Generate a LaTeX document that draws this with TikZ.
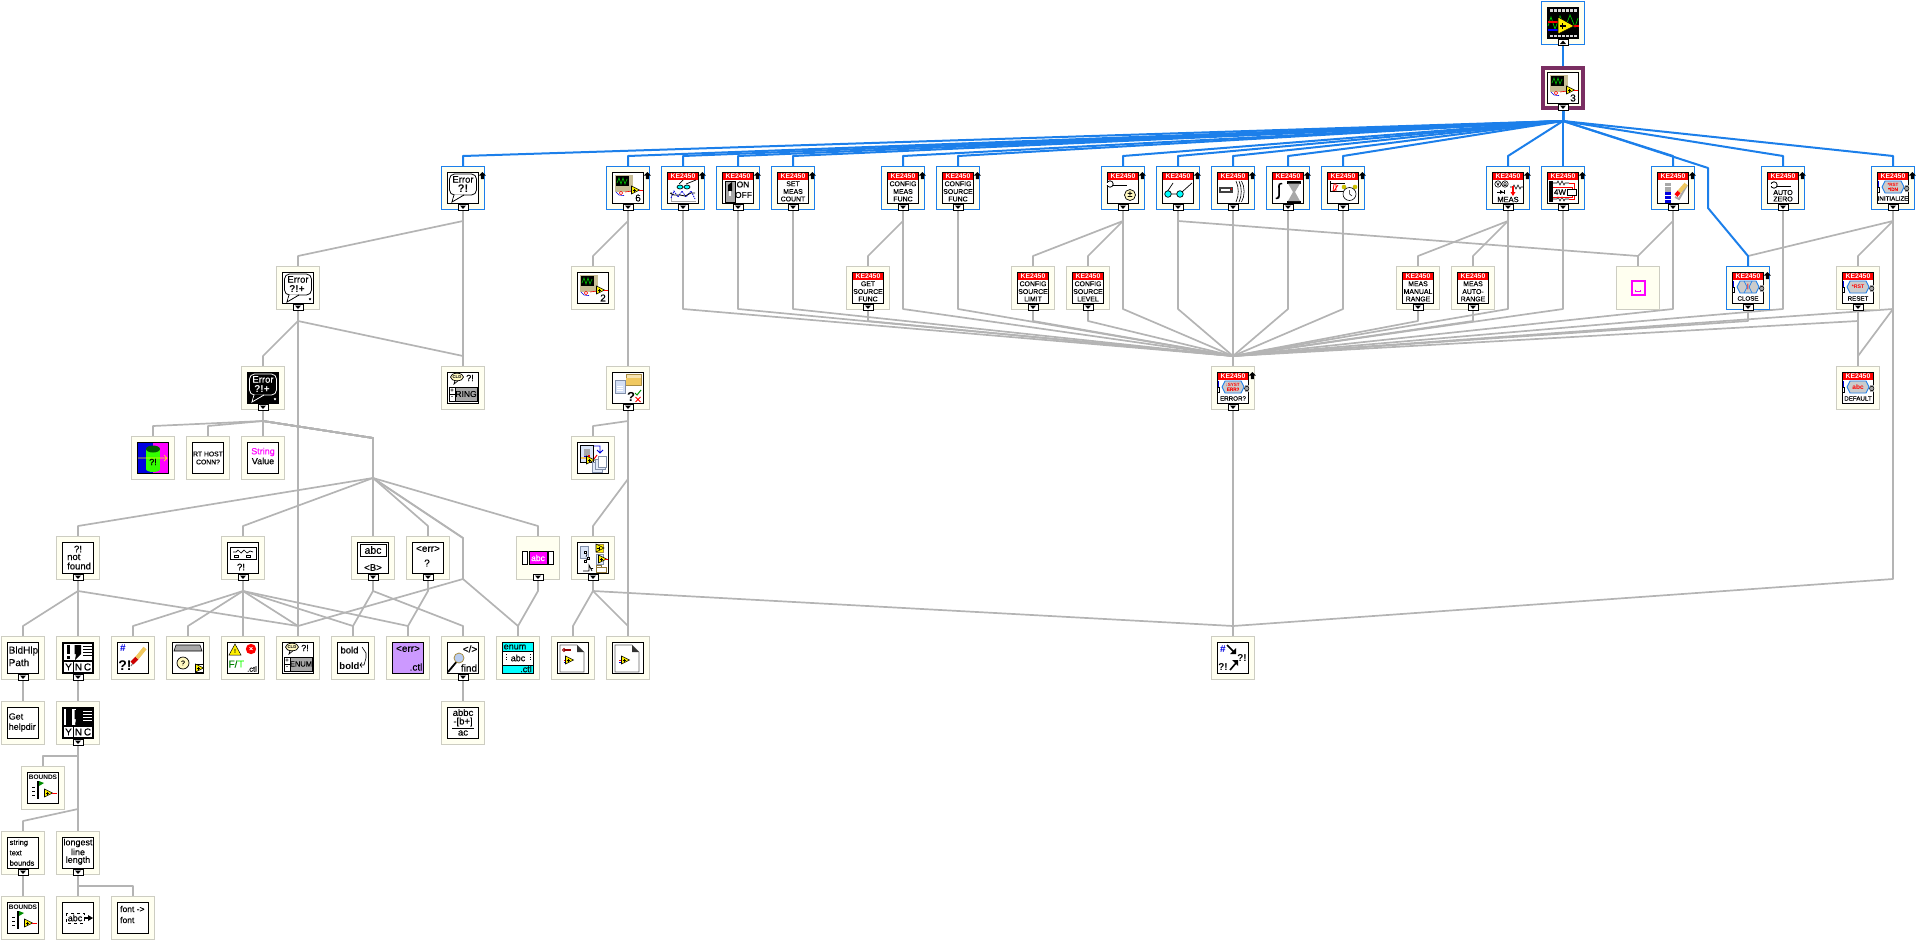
\documentclass[tikz,border=0pt]{standalone}
\usepackage{fontspec}
\setmainfont[FakeBold=0.22]{Liberation Sans}[BoldFont={Liberation Sans Bold},BoldFeatures={FakeBold=0}]
\usetikzlibrary{backgrounds,calc}
\definecolor{ivo}{HTML}{FFFFF0}
\definecolor{gb}{HTML}{CDCDC2}
\definecolor{gln}{HTML}{B4B4B4}
\definecolor{bl}{HTML}{1C7FEA}
\definecolor{pur}{HTML}{7A2E62}
\definecolor{tan1}{HTML}{C8BE96}
\definecolor{yel}{HTML}{FFF000}
\definecolor{mag}{HTML}{FF00FF}
\definecolor{cyn}{HTML}{00FFFF}
\definecolor{lav}{HTML}{CC99FF}
\definecolor{cream}{HTML}{FFF8C0}
\definecolor{gry}{HTML}{A8A8A8}
\definecolor{dbl}{HTML}{0000E0}
\definecolor{lbl}{HTML}{B8CCF0}
\definecolor{fold}{HTML}{F0C860}
\tikzset{
 vi/.style={draw=gb,line width=1pt,fill=ivo,minimum size=43pt,inner sep=0pt,outer sep=0pt},
 vib/.style={vi,draw=bl},
 vip/.style={vi,draw=pur,line width=4pt,minimum size=40pt},
 gl/.style={draw=gln,line width=1.7pt,line join=round},
 bll/.style={draw=bl,line width=2pt,line join=round},
 ink/.style={line width=1pt}
}
\newcounter{tc}
\newcommand\Tx[5][black]{\stepcounter{tc}\node[text=#1,align=center,inner sep=0pt,font=\fontsize{#4}{#4}\selectfont] (t\arabic{tc}) at (#2,#3) {#5};}
\newcommand\Tl[5][black]{\stepcounter{tc}\node[text=#1,anchor=west,inner sep=0pt,font=\fontsize{#4}{#4}\selectfont] (t\arabic{tc}) at (#2,#3) {#5};}
% node with black-framed icon
\newcommand\VI[5]{\node[#4] (#1) at (#2,#3) {};\begin{scope}[shift={(#1.center)}]\draw[line width=1pt,fill=white] (-15.5,-15.5) rectangle (15.5,15.5);#5\end{scope}}
% node with no frame
\newcommand\VN[5]{\node[#4] (#1) at (#2,#3) {};\begin{scope}[shift={(#1.center)}]#5\end{scope}}
\newcommand\Btn[1]{\begin{scope}[shift={(#1.center)}]\draw[line width=1pt,fill=white] (-5,16.5) rectangle (5,22);\fill (-3,17.5)--(3,17.5)--(0,21)--cycle;\end{scope}}
\newcommand\BtnU[1]{\begin{scope}[shift={(#1.center)}]\draw[line width=1pt,fill=white] (-5,16.5) rectangle (5,22);\fill (-3,21)--(3,21)--(0,17.5)--cycle;\end{scope}}
\newcommand\Up[1]{\begin{scope}[shift={(#1.center)}]\fill (19.3,-16)--(22.8,-12.5)--(20.8,-12.5)--(20.8,-9)--(17.8,-9)--(17.8,-12.5)--(15.8,-12.5)--cycle;\end{scope}}
% icon parts
\newcommand\KE{\fill[red] (-15,-15) rectangle (15,-8);\Tx[white]{0}{-11.5}{6.8}{\bfseries KE2450}}
\newcommand\KTh[3]{\KE\Tx{0}{-4.2}{6.9}{#1}\Tx{0}{3.6}{6.9}{#2}\Tx{0}{11}{6.9}{#3}}
\newcommand\Tri[2]{\begin{scope}[shift={(#1,#2)}]\draw[line width=.6pt,fill=yel] (-3.5,-4)--(-3.5,4)--(4.5,0)--cycle;\draw[line width=.6pt] (-2.2,0)--(.8,0) (-.7,-1.5)--(-.7,1.5);\end{scope}}
\newcommand\Scp[1]{\fill[tan1] (-13,-13) rectangle (5,4);\fill (-12,-12) rectangle (1,-2);\draw[green!70!black,line width=.7pt] (-11,-5)--(-9,-10)--(-7,-4)--(-5,-10)--(-3,-4)--(-1,-9);\draw[dbl,line width=.6pt] (-12,4)--(-9,7)--(-4,7.5);\draw[red,line width=.6pt] (-7,5) circle (1.8) (-3,4)--(4,3);\Tri{7}{2}\draw[red,line width=.7pt] (11,2)--(15,2);\Tx{10}{10}{10}{#1}}
\newcommand\Bub[4]{\draw[line width=.8pt,#4] (-9,#1) -- (-11,14) -- (1,#1);\draw[line width=.8pt,rounded corners=5pt,#4] (-13.5,-14) rectangle (13.5,#1);\fill[#2] (-8,6.5)--(-10,12)--(0,6.5)--cycle;\Tx[#3]{0}{-8.5}{9.5}{Error}}
\newcommand\RingI[2]{\draw[ink,fill=cream,line width=.7pt] (-6,-11) ellipse (6.5 and 3.8);\draw[line width=.7pt] (-8,-7.5)--(-9,-4)--(-5,-7.2);\Tx{-6}{-11}{4.2}{\bfseries CLD}\Tx{7}{-10}{9}{?!}\draw[line width=.8pt,fill=gry] (-14,-1) rectangle (14,13);\draw[line width=.8pt,fill=white] (-14,-1) rectangle (-8,13);\draw[line width=.7pt] (-14,6)--(-8,6);\Tx{-11}{2.5}{6}{\bfseries +}\Tx{-11}{9.5}{6}{\bfseries -}\Tx{3}{6}{#2}{#1}}
\newcommand\KBub[3]{\KE\fill[dbl] (-15.5,-7) rectangle (-14,-1);\draw[line width=.7pt,fill=white] (-15.5,-1) rectangle (-13.5,4);\draw[bl,line width=.9pt,fill=gry!60] (-11,-1)--(-8,-7)--(8,-7)--(11,-1)--(8,5)--(-8,5)--cycle;\fill[gry] (12,-3) rectangle (15.5,4);\draw[line width=.5pt] (13.7,.5) circle (2.2);\Tx[red]{0}{-1}{#3}{\bfseries #1}\Tx{0}{10.5}{6.2}{#2}}
\newcommand\Wrench[2]{\begin{scope}[shift={(#1,#2)}]\draw[line width=3pt] (-6,0)--(12,0);\draw[white,line width=1.6pt] (-6,0)--(12,0);\draw[line width=.8pt,fill=white] (-5,0) circle (3.2);\fill[white] (-9,-1)--(-5,-.8)--(-5,.8)--(-9,1)--cycle;\end{scope}}
\newcommand\Glass[2]{\draw[line width=.7pt] (-11,#1)--(-5,#2) (4,#1)--(14,#2) (-7,6)--(-1,6);\draw[line width=.7pt,fill=cyn] (-10,6) circle (3.3) (2,6) circle (3.3);}
\newcommand\Mini[2]{\begin{scope}[shift={(#1,#2)}]\draw[line width=.5pt,fill=white] (-4,-4) rectangle (4,4);\Tri{0}{0}\end{scope}}
\newcommand\YNC[2]{\fill (-15.5,-15.5) rectangle (15.5,15.5);\fill[#2] (-14,-14) rectangle (#1,2);\fill[white] (-6,-14) rectangle (14,2);\fill (-3.5,-13)--(3,-13)--(3,-4)--(-3,2)--(-2,-4)--(-3.5,-4)--cycle;\fill (-11,-13) rectangle (-8,-4);\fill (-11,-2) rectangle (-8,1);\draw[line width=.6pt] (5,-12)--(14,-12) (5,-9)--(14,-9) (5,-6)--(14,-6) (5,-3)--(14,-3);\foreach \xa/\lt in {-14/Y,-4/N,5/C}{\fill[white] (\xa,4) rectangle (\xa+9,14);\Tx{\xa+4.5}{9}{10}{\lt}}}
\newcommand\Doc[1]{\draw[line width=.7pt,draw=gry!60!black] (-13,-13)--(4,-13)--(11,-6)--(11,14)--(-13,14)--cycle;\fill[gray!40!black] (4,-13)--(11,-6)--(4,-6)--cycle;\draw[red,line width=.7pt] (-9,2)--(-5,2);\draw[dbl,line width=.7pt] (-9,4)--(-5,4);#1}
\newcommand\Bound{\Tx{0}{-10.5}{6.5}{\bfseries BOUNDS}\fill (-6.5,-7) rectangle (-4,11);\fill[green!55!black] (-4,-7)--(1,-5)--(-4,-2)--cycle;\draw[dashed,line width=.5pt] (-11,-1)--(-8,-1) (-11,3)--(-8,3) (-11,7)--(-8,7);\Tri{5}{5}\draw[red,line width=.6pt] (9,5)--(14,5);}
\newcommand\Eg[2]{\draw[gl] (#1.center) -- ($(#1.center)+(0,33)$) -- ($(#2.center)+(0,-32)$) -- (#2.center);}
\newcommand\El[2]{\draw[gl] (#1.center) -- ($(#1.center)+(0,121)$) -- ($(#2.center)+(0,-32)$) -- (#2.center);}
\newcommand\Ev[3]{\draw[gl] (#1.center) -- ($(#1.center)+(0,33)$) -- #2 -- ($(#3.center)+(0,-32)$) -- (#3.center);}
\newcommand\Eb[1]{\draw[bll] (n2.center) -- ($(n2.center)+(0,33)$) -- ($(#1.center)+(0,-32)$) -- (#1.center);}
\begin{document}
\begin{tikzpicture}[x=1pt,y=-1pt]
\useasboundingbox (0,0) rectangle (1923,945);
% ---------- row 1, 2
\VI{n1}{1563}{23}{vib}{\fill (-15.5,-15.5) rectangle (15.5,15.5);\foreach \xa in {-13,-9,-5,-1,3,7,11}{\fill[gray!30] (\xa,-14) rectangle (\xa+2.5,-11.5);\fill[gray!30] (\xa,11.5) rectangle (\xa+2.5,14);}\draw[green!80!black,line width=.7pt] (-15,3)--(-12,-6)--(-8,6)--(-3,-7)--(2,5)--(7,-8)--(12,4)--(15,-5);\draw[red,line width=1.5pt] (-15,-1)--(-5,-1);\draw[blue,line width=1.5pt] (-15,7)--(-5,7);\draw[red,line width=1.5pt] (10,3)--(16,3);\draw[line width=.6pt,fill=yel] (-5,-6)--(-5,11)--(11,3)--cycle;\draw[line width=1.2pt] (-3.5,3)--(3,3) (-.3,0)--(-.3,6);}
\BtnU{n1}
\VI{n2}{1563}{88}{vip}{\Scp{3}}
\Btn{n2}
% ---------- row 3
\VI{n3x463}{463}{188}{vib}{\Bub{7}{white}{black}{}\Tx{0}{1}{11}{\bfseries ?!}}
\VI{n3x628}{628}{188}{vib}{\Scp{6}}
\VI{n3x683}{683}{188}{vib}{\KE\draw[line width=.7pt] (-4,-4)--(0,-8) (3,-4)--(13,-8);\draw[line width=.7pt,fill=cyn] (-3,-1) ellipse (3 and 2) (4,-1) ellipse (3 and 2);\draw[gry,line width=.5pt] (-12,4)--(-12,13)--(13,13);\draw[dbl,line width=.8pt,dash pattern=on 1.5pt off 1pt] (-12,10)--(-9,3)--(-5,9)--(-1,3)--(3,9)--(8,3)--(12,11);\draw[line width=.8pt] (-13,5)--(-9,7)--(-3,7)--(2,8)--(8,5)--(12,5);}
\VI{n3x738}{738}{188}{vib}{\KE\draw[line width=.7pt,fill=gry] (-13,-7) rectangle (-3,14);\fill (-10,-3)--(-6,-6)--(-6,3)--(-10,3)--cycle;\fill[white] (-9,3) rectangle (-7,8);\Tx{5}{-3.5}{8.5}{ON}\Tx{5.5}{7}{8.5}{OFF}}
\VI{n3x793}{793}{188}{vib}{\KTh{SET}{MEAS}{COUNT}}
\VI{n3x903}{903}{188}{vib}{\KTh{CONFIG}{MEAS}{FUNC}}
\VI{n3x958}{958}{188}{vib}{\KTh{CONFIG}{SOURCE}{FUNC}}
\VI{n3x1123}{1123}{188}{vib}{\KE\Wrench{-8}{-4}\draw[line width=.7pt,fill=cream] (7,7) circle (5.5);\Tx{7}{7}{9}{\bfseries ±}}
\VI{n3x1178}{1178}{188}{vib}{\KE\Glass{4}{-5}}
\VI{n3x1233}{1233}{188}{vib}{\KE\fill[gray!50!black] (-14,-1) rectangle (0,5);\fill[white] (-12,.5) rectangle (-3,3);\fill[red] (-2,0) rectangle (-1,2);\draw[line width=.6pt] (3,-7) .. controls (6,-1) and (6,8) .. (3,14) (6,-7) .. controls (9,-1) and (9,8) .. (6,14) (8.5,-7) .. controls (12,-1) and (12,8) .. (8.5,14);}
\VI{n3x1288}{1288}{188}{vib}{\KE\Tx{-9}{3}{17}{∫}\fill (-1,-7) rectangle (13,-4.5);\fill (-1,13) rectangle (13,15.5);\fill[gry] (0,-4.5)--(12,-4.5)--(7,4)--(12,13)--(0,13)--(5,4)--cycle;}
\VI{n3x1343}{1343}{188}{vib}{\KE\draw[line width=.7pt] (-13,-7)--(-13,3)--(0,3) (-13,-5)--(2,-5);\draw[red,line width=.8pt] (-10,3)--(-9,-4)--(-7,-4)--(-7,3) (-9,3)--(-5,-3);\fill[yel!80!black] (1,-1) circle (2.3) (12,-1) circle (2.3);\draw[line width=.6pt,fill=white] (6.5,6) circle (6.5);\draw[line width=.5pt] (6.5,2)--(6.5,6)--(9,8);}
\VI{n3x1508}{1508}{188}{vib}{\KE\draw[line width=.6pt] (-10,-4) circle (3.2) (-3,-4) circle (3.2);\Tx{-10}{-4}{4.5}{V}\Tx{-3}{-4}{4.5}{Ω}\draw[line width=.6pt] (2,-1)--(5,-1)--(6,-3)--(8,1)--(10,-3)--(12,1)--(13,-1)--(15,-1);\draw[line width=.7pt] (-11,4)--(-3,4);\fill (-8,2)--(-8,6)--(-5,4)--cycle;\fill (-4.5,2) rectangle (-3.5,6);\fill[red] (4,-2) rectangle (6,4);\fill[red] (2.5,4)--(7.5,4)--(5,8)--cycle;\Tx{0}{11.5}{7.5}{MEAS}}
\VI{n3x1563}{1563}{188}{vib}{\KE\fill (-14,-7) rectangle (-10,14);\draw[line width=.6pt] (-10,-5)--(-6,-5)--(-5,-7)--(-3,-3)--(-1,-7)--(1,-3)--(2,-5)--(6,-5);\draw[line width=.6pt] (-10,11)--(-6,11)--(-5,9)--(-3,13)--(-1,9)--(1,13)--(2,11)--(6,11);\draw[red,line width=.8pt] (-10,-1)--(9,-1)--(9,1) (-10,9)--(9,9)--(9,7) (6,-5)--(11,-5)--(11,1) (6,11)--(11,11)--(11,7);\Tx{-3}{4}{8}{4W}\draw[line width=.7pt,fill=white] (4,1) rectangle (13,7);}
\VI{n3x1673}{1673}{188}{vib}{\KE\fill[gry] (-8,-5) rectangle (-2,4);\draw[white,line width=.4pt] (-8,-1.5)--(-2,-1.5);\fill[dbl] (-8,4) rectangle (-2,15);\draw[white,line width=.4pt] (-8,7.5)--(-2,7.5) (-8,11)--(-2,11);\draw[gry,line width=2pt] (2,9)--(6,11)--(14,-3);\draw[fold,line width=4pt] (6,4)--(13,-4);\draw[red,line width=4pt] (3,7.5)--(6,4);}
\VI{n3x1783}{1783}{188}{vib}{\KE\Wrench{-4}{-3}\Tx{0}{4.5}{7}{AUTO}\Tx{0}{11}{7}{ZERO}}
\VI{n3x1893}{1893}{188}{vib}{\KBub{\fontsize{4.6}{5}\selectfont *RST\\{}*IDN}{INITIALIZE}{4.6}}
\foreach \nm in {n3x463,n3x628,n3x683,n3x738,n3x793,n3x903,n3x958,n3x1123,n3x1178,n3x1233,n3x1288,n3x1343,n3x1508,n3x1563,n3x1673,n3x1783,n3x1893}{\Btn{\nm}\Up{\nm}}
% ---------- row 4
\VI{n4x298}{298}{288}{vi}{\Bub{7}{white}{black}{}\Tx{-1}{1}{10}{\bfseries ?!+}\Tx{12}{12}{6}{*}}\Btn{n4x298}
\VI{n4x593}{593}{288}{vi}{\Scp{2}}
\VI{n4x868}{868}{288}{vi}{\KTh{GET}{SOURCE}{FUNC}}\Btn{n4x868}
\VI{n4x1033}{1033}{288}{vi}{\KTh{CONFIG}{SOURCE}{LIMIT}}\Btn{n4x1033}
\VI{n4x1088}{1088}{288}{vi}{\KTh{CONFIG}{SOURCE}{LEVEL}}\Btn{n4x1088}
\VI{n4x1418}{1418}{288}{vi}{\KTh{MEAS}{MANUAL}{RANGE}}\Btn{n4x1418}
\VI{n4x1473}{1473}{288}{vi}{\KTh{MEAS}{AUTO-}{RANGE}}\Btn{n4x1473}
\VN{n4x1638}{1638}{288}{vi}{\draw[mag,line width=2pt] (-6.5,-7) rectangle (6.5,7);\draw[mag,line width=.8pt] (-2.5,1.5)--(-2.5,3)--(2.5,3)--(2.5,1.5);}
\VI{n4x1748}{1748}{288}{vib}{\KBub{\textcolor{red}{|}}{CLOSE}{6}\draw[bl,line width=.7pt] (-4,-7)--(-1,-1)--(-4,5) (4,-7)--(1,-1)--(4,5);}\Btn{n4x1748}\Up{n4x1748}
\VI{n4x1858}{1858}{288}{vi}{\KBub{*RST}{RESET}{5.2}}\Btn{n4x1858}
% ---------- row 5
\VI{n5x263}{263}{388}{vi}{\fill (-15.5,-15.5) rectangle (15.5,15.5);\Bub{7}{black}{white}{draw=white}\Tx[white]{-1}{1}{10}{\bfseries ?!+}\Tx[white]{12}{12}{6}{*}}\Btn{n5x263}
\VI{n5x463}{463}{388}{vi}{\RingI{RING}{8.5}}
\VI{n5x628}{628}{388}{vi}{\draw[lbl!70!black,line width=.5pt,fill=lbl!60] (-13,-8) rectangle (-3,5);\draw[white,line width=.5pt] (-11,-2)--(-5,-2) (-11,0)--(-5,0) (-11,2)--(-5,2);\draw[fold!70!black,line width=.6pt,fill=fold!50] (-2,-14) rectangle (13,-3);\fill[fold] (-2,-10) rectangle (13,-3);\Tx{3}{9}{13}{\bfseries ?}\draw[green!60!black,line width=1pt] (7,5)--(9,7)--(13,2);\draw[red,line width=.8pt] (7.5,9)--(12.5,14) (12.5,9)--(7.5,14);}\Btn{n5x628}
\VI{n5x1233}{1233}{388}{vi}{\KBub{\fontsize{4.6}{5}\selectfont :SYST\\ERR?}{ERROR?}{4.6}}\Btn{n5x1233}\Up{n5x1233}
\VI{n5x1858}{1858}{388}{vi}{\KBub{abc}{DEFAULT}{6.5}}
% ---------- row 6
\VI{n6x153}{153}{458}{vi}{\fill[dbl] (-15,-15) rectangle (0,15);\fill[mag] (0,-15) rectangle (15,15);\fill[green!80!yellow] (-7,-9) rectangle (7,11);\fill[green!80!yellow] (0,11) ellipse (7 and 3);\fill[green!35!black] (0,-9) ellipse (7 and 3.5);\draw[yellow,line width=.7pt] (-15,0)--(14,0) (11,-3)--(14,0)--(11,3);\Tx{0}{4}{9}{?!}}
\VI{n6x208}{208}{458}{vi}{\Tx{0}{-4}{6.8}{RT HOST}\Tx{0}{4}{6.8}{CONN?}}
\VI{n6x263}{263}{458}{vi}{\Tx[mag]{0}{-6}{9}{String}\Tx{0}{3}{9}{Value}}
\VI{n6x593}{593}{458}{vi}{\draw[line width=.5pt,fill=lbl!50] (-13,-13) rectangle (0,4);\fill[gry] (-9,-9) rectangle (-3,-1);\fill[dbl] (-9,-2) rectangle (-7,0);\fill[fold] (-12,-1) rectangle (-6,1);\fill[red] (-5,-3) rectangle (-3,-1);\Tri{-3}{2}\draw[red,line width=1pt] (1,1)--(4,-3);\draw[dbl,line width=.8pt] (1,-12)--(7,-12)--(7,-6) (4,-8)--(7,-5)--(10,-8);\draw[lbl!70!black,line width=.5pt,fill=lbl!40] (-1,4) rectangle (9,14);\draw[lbl!70!black,line width=.5pt,fill=lbl!40] (2,1) rectangle (12,11);\draw[lbl!70!black,line width=.5pt,fill=white] (5,-2) rectangle (13,9);}
% ---------- row 7
\VI{n7x78}{78}{558}{vi}{\Tx{0}{-9}{9.5}{?!}\Tl{-11}{-1}{9.5}{not}\Tl{-11}{8}{9.5}{found}}\Btn{n7x78}
\VI{n7x243}{243}{558}{vi}{\draw[line width=.8pt] (-13,-11) rectangle (13,1);\draw[line width=.7pt] (-10,-6)--(-7,-6)--(-5,-8)--(-2,-5)--(1,-8)--(4,-5)--(7,-7)--(10,-6);\draw[line width=.6pt] (-9,-3) rectangle (-5,-1) (3,-3) rectangle (7,-1);\Tx{-2}{9}{9.5}{?!}}\Btn{n7x243}
\VI{n7x373}{373}{558}{vi}{\draw[line width=.8pt] (-13,-14) rectangle (13,-2);\Tx{0}{-8}{10.5}{abc}\Tx{0}{9.5}{9.5}{<B>}}\Btn{n7x373}
\VI{n7x428}{428}{558}{vi}{\Tx{0}{-9}{10}{<err>}\Tx{-1}{5}{10}{?}}\Btn{n7x428}
\VN{n7x538}{538}{558}{vi}{\draw[line width=.9pt,fill=white] (-15.5,-6.5) rectangle (-10.5,6);\draw[line width=.9pt,fill=white] (10.5,-6.5) rectangle (15.5,6);\draw[line width=.9pt,fill=mag] (-9,-6.5) rectangle (9,6);\Tx[white]{0}{0}{8.5}{abc}}\Btn{n7x538}
\VI{n7x593}{593}{558}{vi}{\draw[lbl!70!black,line width=.6pt,fill=lbl!50] (-13,-12) rectangle (-5,0);\draw[line width=.6pt,fill=white] (-9,-7) rectangle (-7,-5) (-6,-1) rectangle (-4,1) (-9,2) rectangle (-7,4);\draw[line width=.5pt] (-6,-4)--(-7,-1) (-7,2)--(-5,1);\draw[line width=.7pt] (-10,13)--(-4,13) (-4,13)--(-4,7)--(-1,13) (-2.5,10.5)--(0,10.5);\draw[fold!70!black,line width=.6pt,fill=yel] (3,-14) rectangle (10,-6);\Tri{6.5}{-10}\draw[lbl!70!black,line width=.6pt,fill=lbl!40] (3,-4) rectangle (10,6);\Tri{9}{1}\draw[red,line width=.6pt] (12,1)--(15,1);\draw[fold!60!black,line width=.6pt] (3,14) rectangle (13,9) (3,9)--(3,7)--(8,7)--(8,9);}\Btn{n7x593}
% ---------- row 8
\VI{n8x23}{23}{658}{vi}{\Tl{-14.5}{-7}{10}{BldHlp}\Tl{-14.5}{4.5}{10}{Path}}\Btn{n8x23}
\VI{n8x78}{78}{658}{vi}{\YNC{-6}{white}}\Btn{n8x78}
\VI{n8x133}{133}{658}{vi}{\Tx[dbl]{-10}{-10}{10}{\bfseries\#}\Tx{-8}{8}{14}{\bfseries ?!}\draw[gray,line width=1pt] (0,5)--(-2,8);\draw[red!80!black,line width=4pt] (-1,5)--(4,0);\draw[fold,line width=4pt] (4,0)--(12,-10);}
\VI{n8x188}{188}{658}{vi}{\draw[line width=.6pt,fill=gry] (-12,-13)--(12,-13)--(14,-7)--(-14,-7)--cycle;\draw[line width=.7pt,fill=cream] (-5,5) circle (6);\Tx{-5}{5}{7}{?}\Mini{11}{10}}
\VI{n8x243}{243}{658}{vi}{\draw[line width=.5pt,fill=yel] (-8,-14)--(-2,-3)--(-14,-3)--cycle;\Tx{-8}{-7}{6}{\bfseries !}\fill[red] (8,-9) circle (5.2);\Tx[white]{8}{-9}{7}{×}\Tx[green!50!black]{-10}{6}{10}{F/}\Tx[green!90!yellow]{-2}{6}{10}{T}\Tx{9}{11}{7.5}{.ctl}}
\VI{n8x298}{298}{658}{vi}{\RingI{ENUM}{7.5}}
\VI{n8x353}{353}{658}{vi}{\Tx{-3.5}{-8}{9.5}{bold}\Tx{-3.5}{8.5}{9.5}{\bfseries bold}\draw[line width=.6pt] (9,-11)--(13,-5)--(13,0)--(11,7)--(7,7) (9,4.5)--(7,7)--(9,9.5);}
\VI{n8x408}{408}{658}{vi}{\fill[lav] (-15,-15) rectangle (15,15);\Tx{0}{-9}{10}{<err>}\Tx{8}{9}{10}{.ctl}}
\VI{n8x463}{463}{658}{vi}{\Tx{7}{-9}{10}{</>}\draw[line width=1.8pt] (-5,2)--(-15,14);\draw[fold!70!black,line width=.8pt,fill=lbl] (-4,0) circle (5);\Tx{6}{10}{10}{find}}\Btn{n8x463}
\VI{n8x518}{518}{658}{vi}{\fill[cyn] (-15,-15) rectangle (15,-7);\fill[cyn] (15,7) rectangle (-15,15);\draw[line width=.7pt] (-15,-7)--(15,-7) (-15,7)--(15,7);\Tx{-3}{-11}{9}{enum}\Tx{0}{0}{9}{abc}\draw[dotted,line width=.7pt] (-12,-4)--(-12,4) (12,-4)--(12,4);\Tx{8}{11}{9}{.ctl}}
\VI{n8x573}{573}{658}{vi}{\Doc{\draw[red!60!black,line width=1.2pt] (-9,-8)--(-2,-8);\draw[red!60!black,line width=1pt] (-9,-8) circle (1.5);\Tri{-4}{2}}}
\VI{n8x628}{628}{658}{vi}{\Doc{\Tri{-3}{2}}}
\VI{n8x1233}{1233}{658}{vi}{\Tx[dbl]{-10}{-9}{10}{\bfseries\#}\draw[line width=1.6pt] (-6,-13)--(1,-6);\fill (3,-4)--(3,-10)--(-3,-4)--cycle;\Tx{9}{0}{10}{\bfseries ?!}\Tx{-10}{9}{10}{\bfseries ?!}\draw[line width=1.6pt] (-3,12)--(3,5);\fill (5,2)--(5,8)--(-1,2)--cycle;}
% ---------- row 9
\VI{n9x23}{23}{723}{vi}{\Tl{-14.5}{-6.5}{9}{Get}\Tl{-14.5}{4.5}{9}{helpdir}}
\VI{n9x78}{78}{723}{vi}{\YNC{-6}{black}\fill (-2,-14) rectangle (14,2);\draw[white,line width=.6pt] (5,-12)--(14,-12) (5,-9)--(14,-9) (5,-6)--(14,-6) (5,-3)--(14,-3);\fill[white] (-14,-14) rectangle (-12,2);}\Btn{n9x78}
\VI{n9x463}{463}{723}{vi}{\Tx{0}{-10.5}{9.5}{abbc}\Tx{0}{-1}{9.5}{-[b+]}\draw[line width=.8pt] (-11,5)--(11,5);\Tx{0}{10}{9.5}{ac}}
% ---------- row 10
\VI{n10x43}{43}{788}{vi}{\Bound}
% ---------- row 11
\VI{n11x23}{23}{853}{vi}{\Tl{-13.5}{-10}{7.5}{string}\Tl{-13.5}{0}{7.5}{text}\Tl{-13.5}{10}{7.5}{bounds}}\Btn{n11x23}
\VI{n11x78}{78}{853}{vi}{\Tx{0}{-10}{9}{longest}\Tx{0}{-1}{9}{line}\Tx{0}{7.5}{9}{length}}\Btn{n11x78}
% ---------- row 12
\VI{n12x23}{23}{918}{vi}{\Bound}
\VI{n12x78}{78}{918}{vi}{\draw[dashed,line width=.5pt] (-12,-5) rectangle (6,5);\Tx{-3}{0}{9}{abc}\draw[line width=1.6pt] (6,0)--(13,0);\fill (10,-3)--(15,0)--(10,3)--cycle;}
\VI{n12x133}{133}{918}{vi}{\Tl{-13}{-9}{8.5}{font ->}\Tl{-13}{2}{8.5}{font}}
% ---------- helper bends
\coordinate (vA) at (373,438);\coordinate (vB) at (373,478);\coordinate (vC) at (463,538);\coordinate (vD) at (463,579);
\coordinate (vE) at (628,479);\coordinate (vF) at (1893,579);\coordinate (vG) at (78,809);
\coordinate (bA) at (1708,168);\coordinate (bB) at (1708,208);
\begin{pgfonlayer}{background}
% row 3 to row 4 / 5
\Eg{n3x463}{n4x298}\Eg{n3x463}{n5x463}\Eg{n3x628}{n4x593}\Eg{n3x628}{n5x628}
\Eg{n3x903}{n4x868}\Eg{n3x1123}{n4x1033}\Eg{n3x1123}{n4x1088}\Eg{n3x1178}{n4x1638}\Eg{n3x1673}{n4x1638}
\Eg{n3x1508}{n4x1418}\Eg{n3x1508}{n4x1473}\Eg{n3x1893}{n4x1748}\Eg{n3x1893}{n4x1858}
\foreach \nm in {n3x683,n3x738,n3x793,n3x903,n3x958,n3x1123,n3x1178,n3x1233,n3x1288,n3x1343,n3x1508,n3x1563,n3x1673,n3x1783,n3x1893}{\El{\nm}{n5x1233}}
\foreach \nm in {n4x868,n4x1033,n4x1088,n4x1418,n4x1473,n4x1748,n4x1858}{\Eg{\nm}{n5x1233}}
\El{n3x1893}{n5x1858}
\Eg{n4x1858}{n5x1858}
\draw[gl] (n3x1893.center) -- (vF) -- ($(n8x1233.center)+(0,-32)$) -- (n8x1233.center);
\Eg{n4x298}{n5x263}\Eg{n4x298}{n5x463}\Eg{n4x298}{n8x298}
\Eg{n5x263}{n6x153}\Eg{n5x263}{n6x208}\Eg{n5x263}{n6x263}
\foreach \nm in {n7x78,n7x243,n7x373,n7x428,n7x538}{\Ev{n5x263}{(vA) -- (vB)}{\nm}}
\Ev{n5x263}{(vA) -- (vB) -- (vC) -- (vD)}{n8x298}
\Ev{n5x263}{(vA) -- (vB) -- (vC) -- (vD)}{n8x518}
\Eg{n5x628}{n6x593}\Ev{n5x628}{(vE)}{n7x593}\Eg{n5x628}{n8x628}
\Eg{n5x1233}{n8x1233}
\Eg{n7x78}{n8x23}\Eg{n7x78}{n8x78}\Eg{n7x78}{n8x298}
\foreach \nm in {n8x133,n8x188,n8x243,n8x298,n8x353,n8x408}{\Eg{n7x243}{\nm}}
\Eg{n7x373}{n8x353}\Eg{n7x373}{n8x463}\Eg{n7x428}{n8x408}\Eg{n7x538}{n8x518}
\Eg{n7x593}{n8x573}\Eg{n7x593}{n8x628}\Eg{n7x593}{n8x1233}
\Eg{n8x23}{n9x23}\Eg{n8x78}{n9x78}\Eg{n8x463}{n9x463}
\Eg{n9x78}{n10x43}\Ev{n9x78}{(vG)}{n11x23}\Eg{n9x78}{n11x78}
\Eg{n11x23}{n12x23}\Eg{n11x78}{n12x78}\Eg{n11x78}{n12x133}
% blue
\draw[bll] (n1.center) -- (n2.center);
\foreach \nm in {n3x463,n3x628,n3x683,n3x738,n3x793,n3x903,n3x958,n3x1123,n3x1178,n3x1233,n3x1288,n3x1343,n3x1508,n3x1563,n3x1673,n3x1783,n3x1893}{\Eb{\nm}}
\draw[bll] (n2.center) -- ($(n2.center)+(0,33)$) -- (bA) -- (bB) -- ($(n4x1748.center)+(0,-32)$) -- (n4x1748.center);
\end{pgfonlayer}
\end{tikzpicture}
\end{document}
